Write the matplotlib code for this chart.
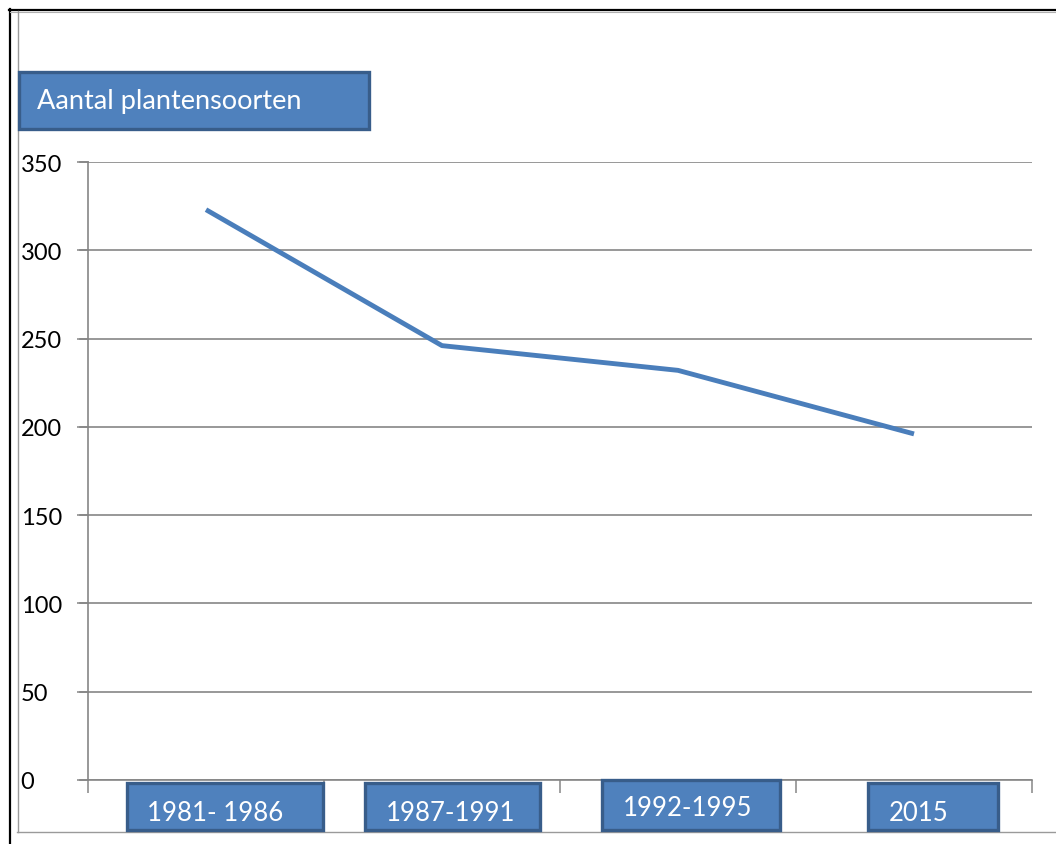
import matplotlib
matplotlib.use("Agg")
import matplotlib.pyplot as plt
from matplotlib.patches import Rectangle
from matplotlib.lines import Line2D

categories = ["1981- 1986", "1987-1991", "1992-1995", "2015"]
values = [323, 246, 232, 196]
yticks = [0, 50, 100, 150, 200, 250, 300, 350]
title = "Aantal plantensoorten"

W, H = 1056, 845
plt.rcParams['font.family'] = ['Lato', 'DejaVu Sans']
fig = plt.figure(figsize=(W / 100, H / 100), dpi=100)

def fx(x):
    return x / W

def fy(y):
    return 1 - y / H

ax = fig.add_axes([fx(88), fy(781), fx(1032) - fx(88), fy(163) - fy(781)])
xs = list(range(len(categories)))
ax.plot(xs, values, color="#4A7EBB", lw=3.5, solid_capstyle="butt")
ax.set_xlim(-0.5, len(categories) - 0.5)
ax.set_ylim(0, 350)
ax.set_yticks(yticks)
ax.set_yticklabels([str(v) for v in yticks], fontsize=17, ha="left")
ax.tick_params(axis="y", length=8, width=1.1, color="#868686", pad=40.5)
ax.set_xticks([x - 0.5 for x in xs] + [len(categories) - 0.5])
ax.set_xticklabels([])
ax.tick_params(axis="x", length=9, width=1.1, color="#868686")
ax.yaxis.grid(True, color="#868686", lw=1.2)
ax.set_axisbelow(True)
for s in ["top", "right"]:
    ax.spines[s].set_visible(False)
for s in ["left", "bottom"]:
    ax.spines[s].set_color("#868686")
    ax.spines[s].set_linewidth(1.2)

# extend grid lines to tick ends
for v in yticks:
    fig.add_artist(Line2D([fx(80), fx(88)], [fy(781 - v / 350 * 618)] * 2,
                          color="#868686", lw=1.2))

# frame lines
fig.add_artist(Line2D([fx(9.5), fx(9.5)], [fy(10), fy(845)], color="black", lw=1.6))
fig.add_artist(Line2D([fx(9), fx(1056)], [fy(10.5), fy(10.5)], color="black", lw=1.6))
fig.add_artist(Line2D([fx(10), fx(1056)], [fy(12.5), fy(12.5)], color="#b0b0b0", lw=0.8))
fig.add_artist(Line2D([fx(17.5), fx(17.5)], [fy(12), fy(833)], color="#9a9a9a", lw=1.0))
fig.add_artist(Line2D([fx(17), fx(1056)], [fy(833), fy(833)], color="#9a9a9a", lw=1.0))

FILL = "#4F81BD"
EDGE = "#385D8A"

def box(x0, y0, x1, y1, text, tx, ty, size):
    r = Rectangle((fx(x0), fy(y1)), fx(x1) - fx(x0), fy(y0) - fy(y1),
                  transform=fig.transFigure, facecolor=FILL, edgecolor=EDGE,
                  lw=2.4, zorder=5)
    fig.add_artist(r)
    fig.text(fx(tx), fy(ty), text, color="white", fontsize=size,
             ha="left", va="center", zorder=6)

box(19, 73, 369, 130, title, 37, 102, 19.5)

label_boxes = [(127, 784, 323, 831), (365, 784, 540, 831),
               (602, 781, 780, 831), (868, 784, 998, 831)]
label_text = [(147, 814), (386, 814), (623, 809), (889, 814)]
for (b, t, c) in zip(label_boxes, label_text, categories):
    box(*b, c, t[0], t[1], 18.5)

fig.savefig("out.png", dpi=100)
